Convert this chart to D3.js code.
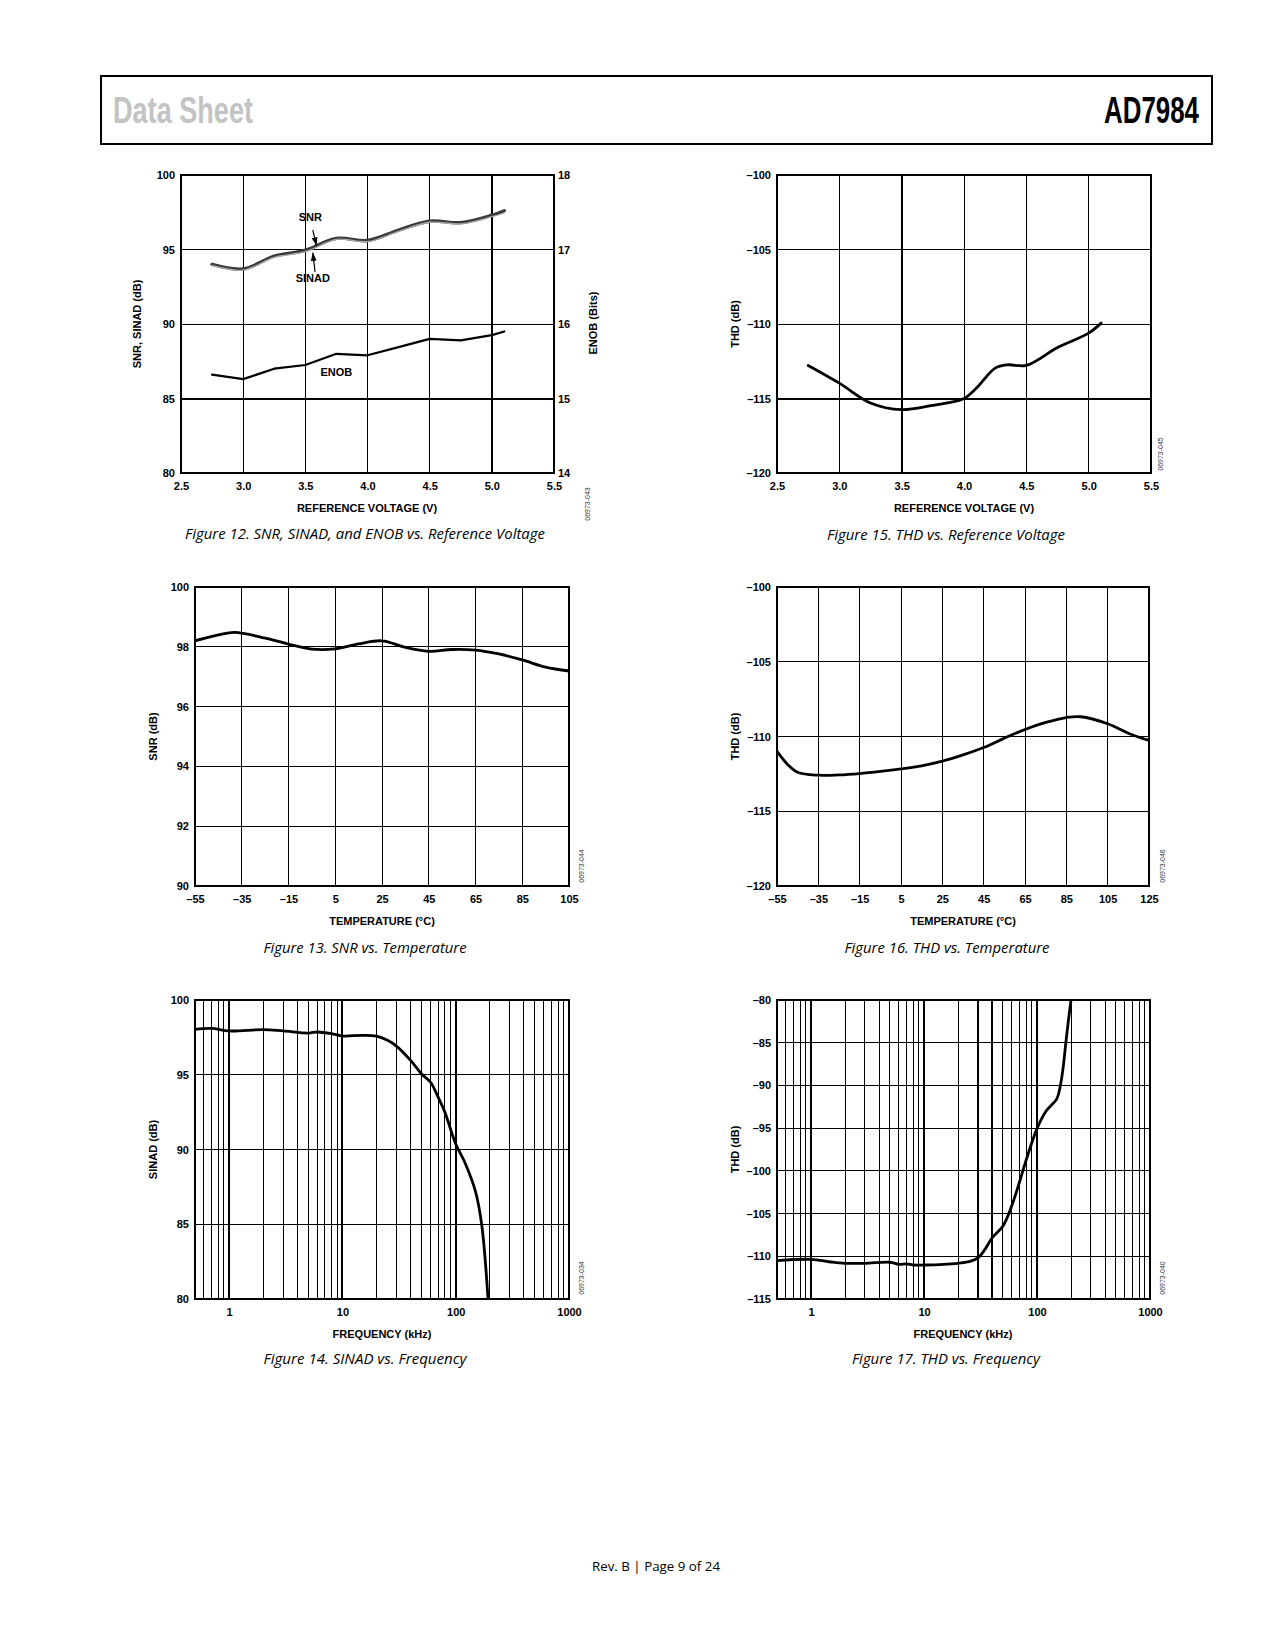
<!DOCTYPE html>
<html><head><meta charset="utf-8">
<script src="https://cdn.jsdelivr.net/npm/d3@7"></script>
<style>
body{margin:0;background:#fff}
svg text{font-family:"Liberation Sans",Arial,sans-serif}
</style></head><body>
<svg id="page" width="1275" height="1650" style="display:block;background:#fff"></svg>
<script>
// ---------- DATA ----------
// Figure 12
const fig12_v     = [2.75, 3.0, 3.25, 3.5, 3.75, 4.0, 4.25, 4.5, 4.75, 5.0, 5.1];
const fig12_snr   = [94.0, 93.7, 94.55, 94.95, 95.75, 95.6, 96.3, 96.9, 96.8, 97.3, 97.6];
const fig12_sinad = [93.93, 93.62, 94.47, 94.85, 95.68, 95.53, 96.22, 96.83, 96.72, 97.2, 97.45];
const fig12_enob  = [15.32, 15.26, 15.40, 15.45, 15.60, 15.58, 15.69, 15.80, 15.78, 15.85, 15.90];
// Figure 15
const fig15_v   = [2.75, 3.0, 3.25, 3.5, 3.75, 3.9, 4.0, 4.1, 4.25, 4.35, 4.5, 4.75, 5.0, 5.1];
const fig15_thd = [-112.78, -113.97, -115.3, -115.75, -115.46, -115.25, -115.0, -114.3, -112.96, -112.74, -112.78, -111.58, -110.61, -109.94];
// Figure 13
const fig13_t   = [-55, -45, -38, -25, -15, -5, 5, 15, 25, 35, 45, 55, 65, 75, 85, 95, 105];
const fig13_snr = [98.2, 98.4, 98.48, 98.29, 98.09, 97.92, 97.93, 98.1, 98.2, 97.98, 97.85, 97.91, 97.89, 97.76, 97.56, 97.32, 97.19];
// Figure 16
const fig16_t   = [-55, -50, -45, -35, -25, -15, -5, 5, 15, 25, 35, 45, 55, 65, 75, 85, 92, 105, 115, 125];
const fig16_thd = [-111.0, -111.85, -112.39, -112.59, -112.57, -112.48, -112.34, -112.17, -111.96, -111.65, -111.23, -110.74, -110.11, -109.53, -109.06, -108.73, -108.68, -109.15, -109.78, -110.27];
// Figure 14
const fig14_f     = [0.5, 0.7, 1, 2, 3, 5, 6, 8, 10, 15, 20, 25, 30, 40, 50, 60, 70, 80, 100, 120, 150, 170, 193];
const fig14_sinad = [98.04, 98.1, 97.93, 98.02, 97.93, 97.79, 97.86, 97.75, 97.59, 97.64, 97.59, 97.3, 96.92, 95.96, 95.05, 94.5, 93.5, 92.53, 90.37, 89.16, 87.15, 84.92, 80];
// Figure 17
const fig17_f   = [0.5, 1, 1.5, 2, 3, 5, 6, 7, 8, 10, 20, 25, 30, 35, 40, 50, 60, 70, 80, 100, 120, 150, 160, 170, 180, 190, 200];
const fig17_thd = [-110.51, -110.36, -110.67, -110.82, -110.82, -110.7, -110.94, -110.9, -111.02, -111.02, -110.82, -110.63, -110.2, -109.1, -107.86, -106.45, -104.03, -101.3, -98.77, -95.06, -93.03, -91.55, -90.2, -88.0, -85.0, -82.3, -80];

// tick values
const voltTicks = [2.5, 3.0, 3.5, 4.0, 4.5, 5.0, 5.5];
const fig12_yTicks = [80, 85, 90, 95, 100];
const fig12_y2Ticks = [14, 15, 16, 17, 18];
const thdRefTicks = [-120, -115, -110, -105, -100];
const fig13_xTicks = [-55, -35, -15, 5, 25, 45, 65, 85, 105];
const fig13_yTicks = [90, 92, 94, 96, 98, 100];
const fig16_xTicks = [-55, -35, -15, 5, 25, 45, 65, 85, 105, 125];
const freqTicks = [1, 10, 100, 1000];
const fig14_yTicks = [80, 85, 90, 95, 100];
const fig17_yTicks = [-115, -110, -105, -100, -95, -90, -85, -80];

// ---------- DRAWING ----------
const svg = d3.select("#page");
const fmt = n => n < 0 ? "\u2013" + Math.abs(n) : String(n);
const snap = (v, wd) => (Math.round(wd) % 2 === 1) ? Math.floor(v) + 0.5 : Math.round(v);

// header
svg.append("rect").attr("x", 101).attr("y", 76).attr("width", 1111).attr("height", 68)
  .attr("fill", "none").attr("stroke", "#000").attr("stroke-width", 2);
svg.append("text").attr("x", 113).attr("y", 123).attr("font-size", 36).attr("font-weight", "bold")
  .attr("fill", "#c3c3c3").attr("textLength", 140).attr("lengthAdjust", "spacingAndGlyphs").text("Data Sheet");
svg.append("text").attr("x", 1104).attr("y", 123).attr("font-size", 36).attr("font-weight", "bold")
  .attr("fill", "#000").attr("textLength", 95).attr("lengthAdjust", "spacingAndGlyphs").text("AD7984");
// footer
svg.append("text").attr("x", 656).attr("y", 1571).attr("text-anchor", "middle").attr("font-size", 13)
  .style("font-family", "'Open Sans','Noto Sans',sans-serif").attr("textLength", 128)
  .attr("lengthAdjust", "spacingAndGlyphs").text("Rev. B | Page 9 of 24");

const defs = svg.append("defs");
defs.append("marker").attr("id", "arr").attr("viewBox", "0 0 10 10").attr("refX", 10).attr("refY", 5)
  .attr("markerWidth", 7).attr("markerHeight", 7).attr("orient", "auto-start-reverse")
  .append("path").attr("d", "M0,1.5 L10,5 L0,8.5 Z").attr("fill", "#000");

let clipId = 0;
function styleAx(a) {
  a.select(".domain").remove();
  a.attr("font-family", null).attr("font-size", null);
  a.selectAll("text").attr("font-size", 11).attr("font-weight", "bold").attr("fill", "#000")
    .style("font-family", "'Liberation Sans',Arial,sans-serif");
}

function panel(o) {
  const g = svg.append("g");
  const x = (o.xlog ? d3.scaleLog() : d3.scaleLinear()).domain(o.xd).range([o.l, o.r]);
  const y = d3.scaleLinear().domain(o.yd).range([o.b, o.t]);
  const h = o.b - o.t, w = o.r - o.l;
  const isThick = (arr, d) => arr.some(v => Math.abs(v - d) < 1e-9);
  const lw = (arr, d) => isThick(arr, d) ? 2 : 1;

  // vertical grid
  const xg = o.xgrid.filter(d => Math.abs(x(d) - o.l) > 1.5 && Math.abs(x(d) - o.r) > 1.5);
  g.append("g").selectAll("line").data(xg).join("line")
    .attr("x1", d => snap(x(d), lw(o.xthick, d))).attr("x2", d => snap(x(d), lw(o.xthick, d)))
    .attr("y1", o.t).attr("y2", o.b)
    .attr("stroke", "#000").attr("stroke-width", d => lw(o.xthick, d));
  // horizontal grid
  const yg = o.yticks.filter(d => d > o.yd[0] && d < o.yd[1]);
  g.append("g").selectAll("line").data(yg).join("line")
    .attr("y1", d => snap(y(d), lw(o.ythick, d))).attr("y2", d => snap(y(d), lw(o.ythick, d)))
    .attr("x1", o.l).attr("x2", o.r)
    .attr("stroke", "#000").attr("stroke-width", d => lw(o.ythick, d));

  // tick labels
  g.append("g").attr("transform", `translate(0,${o.b})`)
    .call(d3.axisBottom(x).tickValues(o.xticks).tickSize(0).tickPadding(9).tickFormat(o.xfmt || fmt))
    .call(styleAx);
  g.append("g").attr("transform", `translate(${o.l},0)`)
    .call(d3.axisLeft(y).tickValues(o.yticks).tickSize(0).tickPadding(6).tickFormat(fmt))
    .call(styleAx);

  // clip
  const cid = "clip" + (clipId++);
  defs.append("clipPath").attr("id", cid).append("rect")
    .attr("x", o.l).attr("y", o.t).attr("width", w).attr("height", h);
  const dg = g.append("g").attr("clip-path", `url(#${cid})`);

  // border
  g.append("rect").attr("x", o.l).attr("y", o.t).attr("width", w).attr("height", h)
    .attr("fill", "none").attr("stroke", "#000").attr("stroke-width", 2);

  // titles
  g.append("text").attr("x", o.xtitleX).attr("y", o.b + 39).attr("text-anchor", "middle")
    .attr("font-size", 11).attr("font-weight", "bold").text(o.xtitle);
  g.append("text").attr("transform", `translate(${o.ytitleX},${(o.t + o.b) / 2}) rotate(-90)`)
    .attr("dy", "0.35em").attr("text-anchor", "middle")
    .attr("font-size", 11).attr("font-weight", "bold").text(o.ytitle);

  // code
  g.append("text").attr("transform", `translate(${o.codeX},${o.codeY}) rotate(-90)`)
    .attr("text-anchor", "middle").attr("dy", "0.35em").attr("font-size", 7).attr("fill", "#333")
    .text(o.code);

  // caption
  g.append("text").attr("x", o.capX).attr("y", o.capY).attr("text-anchor", "middle")
    .attr("font-size", 14).attr("font-style", "italic")
    .style("font-family", "'Open Sans','Noto Sans',sans-serif")
    .attr("textLength", o.capW).attr("lengthAdjust", "spacingAndGlyphs").text(o.caption);

  return { g, dg, x, y };
}

function drawLine(p, xs, ys, curve, stroke, width, yScale) {
  const ysc = yScale || p.y;
  const pts = xs.map((v, i) => [v, ys[i]]);
  p.dg.append("path").datum(pts)
    .attr("d", d3.line().x(d => p.x(d[0])).y(d => ysc(d[1])).curve(curve))
    .attr("fill", "none").attr("stroke", stroke).attr("stroke-width", width)
    .attr("stroke-linejoin", "round").attr("stroke-linecap", "round");
}

// ---- Figure 12 ----
const p12 = panel({
  l: 181, r: 554, t: 175, b: 473, xd: [2.5, 5.5], yd: [80, 100],
  xgrid: voltTicks, xthick: [5.0], yticks: fig12_yTicks, ythick: [85],
  xticks: voltTicks, xfmt: d3.format(".1f"),
  xtitle: "REFERENCE VOLTAGE (V)", xtitleX: 367, ytitle: "SNR, SINAD (dB)", ytitleX: 137,
  code: "06973-043", codeX: 588, codeY: 504,
  caption: "Figure 12. SNR, SINAD, and ENOB vs. Reference Voltage", capX: 365, capY: 539, capW: 360
});
const y12b = d3.scaleLinear().domain([14, 18]).range([473, 175]);
p12.g.append("g").attr("transform", "translate(554,0)")
  .call(d3.axisRight(y12b).tickValues(fig12_y2Ticks).tickSize(0).tickPadding(4).tickFormat(fmt))
  .call(styleAx);
p12.g.append("text").attr("transform", "translate(593,323) rotate(-90)").attr("dy", "0.35em")
  .attr("text-anchor", "middle").attr("font-size", 11).attr("font-weight", "bold").text("ENOB (Bits)");
drawLine(p12, fig12_v, fig12_snr, d3.curveCatmullRom, "#3a3a3a", 3.4);
drawLine(p12, fig12_v, fig12_sinad, d3.curveCatmullRom, "#a8a8a8", 1.3);
drawLine(p12, fig12_v, fig12_enob, d3.curveLinear, "#000", 2.2, y12b);
// annotations
const ann12 = [
  { t: "SNR", x: 3.54, y: 97.2 },
  { t: "SINAD", x: 3.56, y: 93.1 },
  { t: "ENOB", x: 3.75, y: 86.8 }
];
ann12.forEach(a => p12.g.append("text").attr("x", p12.x(a.x)).attr("y", p12.y(a.y)).attr("dy", "0.35em")
  .attr("text-anchor", "middle").attr("font-size", 11).attr("font-weight", "bold").text(a.t));
const arrows12 = [
  { x1: 3.56, y1: 96.3, x2: 3.59, y2: 95.25 },
  { x1: 3.578, y1: 93.5, x2: 3.56, y2: 94.8 }
];
arrows12.forEach(a => p12.g.append("line")
  .attr("x1", p12.x(a.x1)).attr("y1", p12.y(a.y1)).attr("x2", p12.x(a.x2)).attr("y2", p12.y(a.y2))
  .attr("stroke", "#000").attr("stroke-width", 1.2).attr("marker-end", "url(#arr)"));

// ---- Figure 15 ----
const p15 = panel({
  l: 777, r: 1151, t: 175, b: 473, xd: [2.5, 5.5], yd: [-120, -100],
  xgrid: voltTicks, xthick: [3.5], yticks: thdRefTicks, ythick: [-115],
  xticks: voltTicks, xfmt: d3.format(".1f"),
  xtitle: "REFERENCE VOLTAGE (V)", xtitleX: 964, ytitle: "THD (dB)", ytitleX: 735,
  code: "06973-045", codeX: 1161, codeY: 454,
  caption: "Figure 15. THD vs. Reference Voltage", capX: 946, capY: 540, capW: 238
});
drawLine(p15, fig15_v, fig15_thd, d3.curveCatmullRom, "#000", 2.8);

// ---- Figure 13 ----
const p13 = panel({
  l: 195, r: 569, t: 587, b: 886, xd: [-55, 105], yd: [90, 100],
  xgrid: fig13_xTicks, xthick: [], yticks: fig13_yTicks, ythick: [],
  xticks: fig13_xTicks,
  xtitle: "TEMPERATURE (\u00B0C)", xtitleX: 382, ytitle: "SNR (dB)", ytitleX: 153,
  code: "06973-044", codeX: 582, codeY: 866,
  caption: "Figure 13. SNR vs. Temperature", capX: 365, capY: 953, capW: 203
});
drawLine(p13, fig13_t, fig13_snr, d3.curveCatmullRom, "#000", 2.8);

// ---- Figure 16 ----
const p16 = panel({
  l: 777, r: 1149, t: 587, b: 886, xd: [-55, 125], yd: [-120, -100],
  xgrid: fig16_xTicks, xthick: [], yticks: thdRefTicks, ythick: [],
  xticks: fig16_xTicks,
  xtitle: "TEMPERATURE (\u00B0C)", xtitleX: 963, ytitle: "THD (dB)", ytitleX: 735,
  code: "06973-046", codeX: 1163, codeY: 866,
  caption: "Figure 16. THD vs. Temperature", capX: 947, capY: 953, capW: 205
});
drawLine(p16, fig16_t, fig16_thd, d3.curveCatmullRom, "#000", 2.8);

// ---- Figure 14 ----
const logGrid = d3.scaleLog().domain([0.5, 1000]).ticks();
const p14 = panel({
  l: 195, r: 569, t: 1000, b: 1299, xd: [0.5, 1000], yd: [80, 100], xlog: true,
  xgrid: logGrid, xthick: [1, 10, 100], yticks: fig14_yTicks, ythick: [],
  xticks: freqTicks,
  xtitle: "FREQUENCY (kHz)", xtitleX: 382, ytitle: "SINAD (dB)", ytitleX: 153,
  code: "06973-034", codeX: 582, codeY: 1278,
  caption: "Figure 14. SINAD vs. Frequency", capX: 365, capY: 1364, capW: 203
});
drawLine(p14, fig14_f, fig14_sinad, d3.curveCatmullRom, "#000", 2.8);

// ---- Figure 17 ----
const p17 = panel({
  l: 777, r: 1150, t: 1000, b: 1299, xd: [0.5, 1000], yd: [-115, -80], xlog: true,
  xgrid: logGrid, xthick: [1, 10, 30, 40, 100], yticks: fig17_yTicks, ythick: [],
  xticks: freqTicks,
  xtitle: "FREQUENCY (kHz)", xtitleX: 963, ytitle: "THD (dB)", ytitleX: 735,
  code: "06973-040", codeX: 1163, codeY: 1278,
  caption: "Figure 17. THD vs. Frequency", capX: 946, capY: 1364, capW: 188
});
drawLine(p17, fig17_f, fig17_thd, d3.curveCatmullRom, "#000", 2.8);
</script>
</body></html>
